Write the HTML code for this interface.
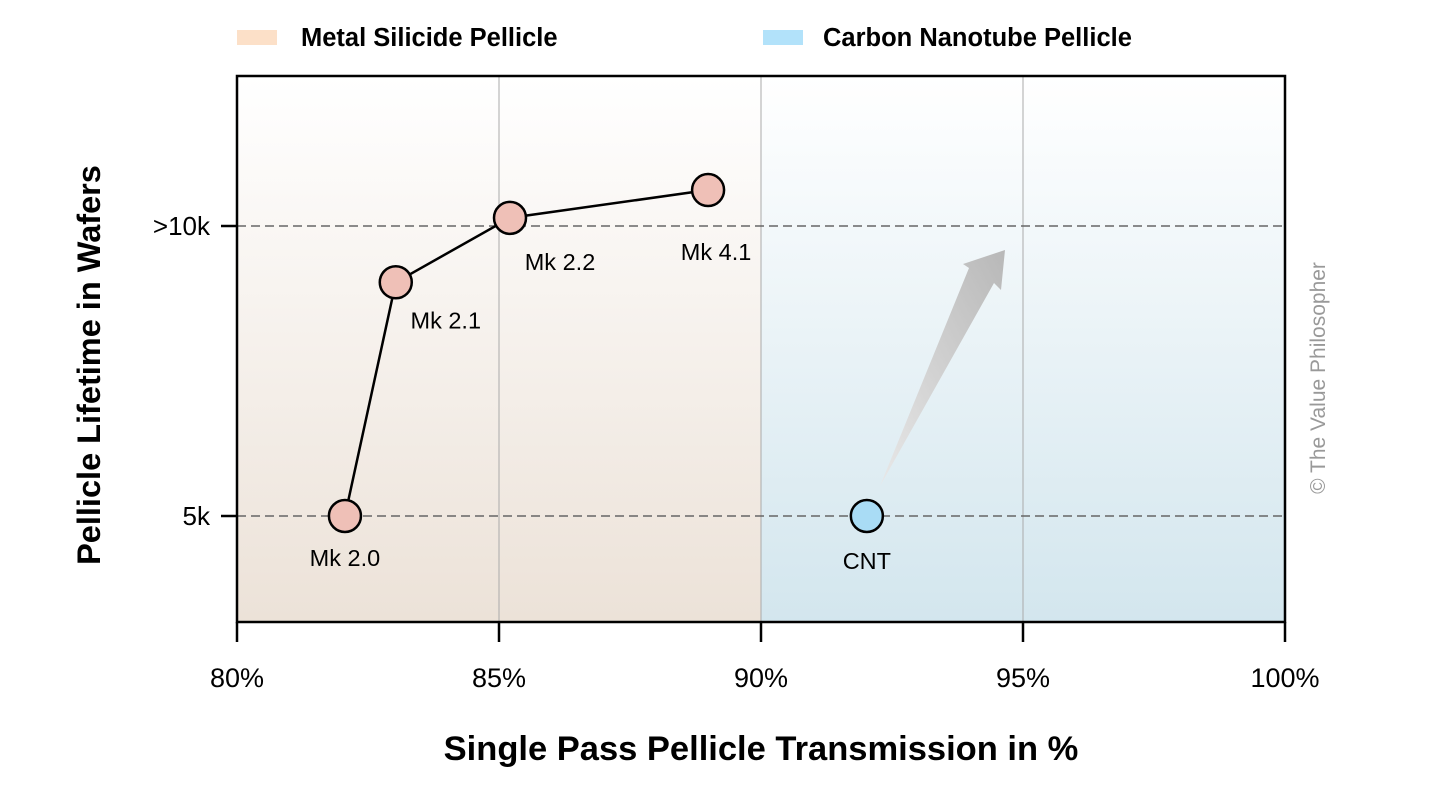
<!DOCTYPE html>
<html><head><meta charset="utf-8"><style>
body{margin:0;background:#fff;}
svg{display:block;font-family:"Liberation Sans",Arial,sans-serif;}
</style></head><body>
<svg id="chart" width="1456" height="795" viewBox="0 0 1456 795">
<defs>
<linearGradient id="gl" x1="0" y1="0" x2="0" y2="1"><stop offset="0" stop-color="#ffffff"/><stop offset="1" stop-color="#ece2d8"/></linearGradient>
<linearGradient id="gr" x1="0" y1="0" x2="0" y2="1"><stop offset="0" stop-color="#ffffff"/><stop offset="1" stop-color="#d3e6ee"/></linearGradient>
<linearGradient id="ga" x1="0" y1="1" x2="1" y2="0"><stop offset="0" stop-color="#e8e8e8"/><stop offset="1" stop-color="#b8b8b8"/></linearGradient>
</defs>
<g>
<rect x="237" y="30" width="40" height="15" fill="#fce0c8"/>
<text x="301" y="46" font-size="25.5" font-weight="bold">Metal Silicide Pellicle</text>
<rect x="763" y="30" width="40" height="15" fill="#b2e2fa"/>
<text x="823" y="46" font-size="25.5" font-weight="bold">Carbon Nanotube Pellicle</text>
</g>
<g id="plot"></g>
<text x="0" y="0" transform="translate(100,365) rotate(-90)" text-anchor="middle" font-size="32.5" font-weight="bold">Pellicle Lifetime in Wafers</text>
<text x="761" y="760" text-anchor="middle" font-size="34.5" font-weight="bold">Single Pass Pellicle Transmission in %</text>
<text x="0" y="0" transform="translate(1325,378) rotate(-90)" text-anchor="middle" font-size="21" fill="#999">© The Value Philosopher</text>
</svg>
<script>
const xTicks=[80,85,90,95,100];
const xTickLabels=["80%","85%","90%","95%","100%"];
const yTicks=[5,10];
const yTickLabels=["5k",">10k"];
const msNames=["Mk 2.0","Mk 2.1","Mk 2.2","Mk 4.1"];
const msX=[82.06,83.03,85.21,88.99];
const msY=[5,9.03,10.14,10.62];
const cntNames=["CNT"];
const cntX=[92.02];
const cntY=[5];
const L=237,R=1285,T=76,B=622;
const X=v=>L+(v-80)/20*(R-L);
const Y=v=>226+(10-v)*58;
const NS="http://www.w3.org/2000/svg";
const g=document.getElementById('plot');
function mk(t,a,p){const e=document.createElementNS(NS,t);for(const k in a)e.setAttribute(k,a[k]);(p||g).appendChild(e);return e;}
let e;
e=mk('rect',{x:L,y:T,width:X(90)-L,height:B-T,fill:'url(#gl)'});


e=mk('rect',{x:X(90),y:T,width:R-X(90),height:B-T,fill:'url(#gr)'});


xTicks.forEach((t,i)=>{
 if(t>80&&t<100){e=mk('line',{x1:X(t),x2:X(t),y1:T,y2:B,stroke:'#aaa','stroke-width':1});
 
 }
 e=mk('line',{x1:X(t),x2:X(t),y1:B,y2:B+20,stroke:'#000','stroke-width':2.5});
 
 
 e=mk('text',{x:X(t),y:687,'text-anchor':'middle','font-size':27});e.textContent=xTickLabels[i];
 
 
});
yTicks.forEach((t,i)=>{
 e=mk('line',{x1:L,x2:R,y1:Y(t),y2:Y(t),stroke:'#666','stroke-width':1.6,'stroke-dasharray':'9,5'});
 
 
 e=mk('text',{x:L-27,y:Y(t)+9,'text-anchor':'end','font-size':26});e.textContent=yTickLabels[i];
 
 
 e=mk('line',{x1:L-16,x2:L,y1:Y(t),y2:Y(t),stroke:'#000','stroke-width':2.5});
 
 
});
e=mk('rect',{x:L,y:T,width:R-L,height:B-T,fill:'none',stroke:'#000','stroke-width':2.5});


e=mk('polygon',{points:'880,486 969,268 963,264 1005,250 1001,290 994,283',fill:'url(#ga)'});


e=mk('polyline',{points:msX.map((v,i)=>X(v)+','+Y(msY[i])).join(' '),fill:'none',stroke:'#000','stroke-width':2.5});


const off=[[0,50],[50,46],[50,52],[8,70]];
msX.forEach((v,i)=>{
 e=mk('circle',{cx:X(v),cy:Y(msY[i]),r:16,fill:'#efc0b7',stroke:'#000','stroke-width':2.5});
 
 
 e=mk('text',{x:X(v)+off[i][0],y:Y(msY[i])+off[i][1],'text-anchor':'middle','font-size':23.5});e.textContent=msNames[i];
 
 
});
cntX.forEach((v,i)=>{
 e=mk('circle',{cx:X(v),cy:Y(cntY[i]),r:16,fill:'#a9dcf5',stroke:'#000','stroke-width':2.5});
 
 
 e=mk('text',{x:X(v),y:Y(cntY[i])+53,'text-anchor':'middle','font-size':23.5});e.textContent=cntNames[i];
 
 
});
</script>
</body></html>
